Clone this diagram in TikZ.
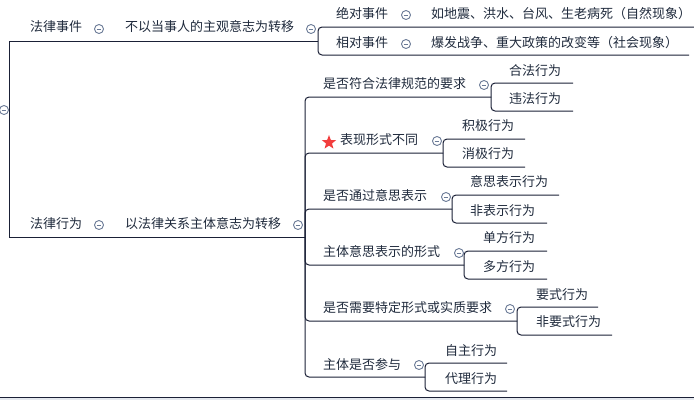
\documentclass[tikz,border=0pt]{standalone}
\usepackage{fontspec}
\setmainfont{Noto Sans CJK SC}
\usetikzlibrary{shapes.geometric}
\definecolor{ink}{HTML}{1F2A3C}
\definecolor{wire}{HTML}{1A2036}
\definecolor{knob}{HTML}{6A7A96}
\definecolor{mark}{HTML}{F23D3D}
\definecolor{band}{HTML}{E4E8EE}

\begin{document}
\begin{tikzpicture}[x=1pt,y=-1pt,
		topic/.style={anchor=west,inner sep=0pt,text=ink,font=\fontsize{13}{13}\selectfont,text height=0.83em,text depth=0.07em},
		fold/.style={circle,draw=knob,line width=0.9pt,minimum size=9pt,inner sep=0pt,
			path picture={\draw[knob,line width=0.9pt] ([xshift=-2.3pt]path picture bounding box.center) -- ([xshift=2.3pt]path picture bounding box.center);}},
		link/.style={draw=wire,line width=1pt,rounded corners=4pt},
		rootlink/.style={draw=wire,line width=1pt}]
	\useasboundingbox (0,0) rectangle (694,400);
	\fill[band] (0,397) rectangle (694,400);
	\draw[wire,line width=1pt] (0,397) -- (694,397);

	% root
	\node[fold] (root) at (4,110) {};
	\coordinate (rootj) at (9,110);

	% 法律事件
	\node[topic] (m1) at (30,28) {法律事件};
	\node[fold] (m1c) at (99,29) {};
	\node[topic] (s1) at (125,28) {不以当事人的主观意志为转移};
	\node[fold] (s1c) at (311,29) {};
	\coordinate (s1j) at (318,41);
	\node[topic] (e1) at (336,15) {绝对事件};
	\node[fold] (e1c) at (406,15) {};
	\node[topic] (e1d) at (431,15) {如地震、洪水、台风、生老病死（自然现象）};
	\coordinate (e1e) at (694,27);
	\node[topic] (e2) at (336,44) {相对事件};
	\node[fold] (e2c) at (406,44) {};
	\node[topic] (e2d) at (431,44) {爆发战争、重大政策的改变等（社会现象）};
	\coordinate (e2e) at (689,55);

	% 法律行为
	\node[topic] (m2) at (30,225) {法律行为};
	\node[fold] (m2c) at (99,225) {};
	\node[topic] (s2) at (125,225) {以法律关系主体意志为转移};
	\node[fold] (s2c) at (298,225) {};
	\coordinate (s2j) at (305,237);

	\node[topic] (q1) at (323,85) {是否符合法律规范的要求};
	\node[fold] (q1c) at (484,85) {};
	\coordinate (q1j) at (491,97);
	\node[topic] (a1) at (509,72) {合法行为};
	\coordinate (a1e) at (573,83);
	\node[topic] (a2) at (509,100) {违法行为};
	\coordinate (a2e) at (573,111);

	\node[star,star points=5,star point ratio=2.4,fill=mark,minimum size=15pt,inner sep=0pt] (q2s) at (329,142.5) {};
	\node[topic] (q2) at (340,141) {表现形式不同};
	\node[fold] (q2c) at (437,141) {};
	\coordinate (q2j) at (443,153);
	\node[topic] (b1) at (462,127) {积极行为};
	\coordinate (b1e) at (525,139);
	\node[topic] (b2) at (462,155) {消极行为};
	\coordinate (b2e) at (525,167);

	\node[topic] (q3) at (323,197) {是否通过意思表示};
	\node[fold] (q3c) at (446,197) {};
	\coordinate (q3j) at (452,209);
	\node[topic] (c1) at (470,183) {意思表示行为};
	\coordinate (c1e) at (559,195);
	\node[topic] (c2) at (470,212) {非表示行为};
	\coordinate (c2e) at (547,223);

	\node[topic] (q4) at (323,253) {主体意思表示的形式};
	\node[fold] (q4c) at (459,253) {};
	\coordinate (q4j) at (464,265);
	\node[topic] (d1) at (483,239) {单方行为};
	\coordinate (d1e) at (547,251);
	\node[topic] (d2) at (483,268) {多方行为};
	\coordinate (d2e) at (547,279);

	\node[topic] (q5) at (323,309) {是否需要特定形式或实质要求};
	\node[fold] (q5c) at (510,309) {};
	\coordinate (q5j) at (517,321);
	\node[topic] (f1) at (536,296) {要式行为};
	\coordinate (f1e) at (598,307);
	\node[topic] (f2) at (536,323) {非要式行为};
	\coordinate (f2e) at (612,335);

	\node[topic] (q6) at (323,366) {主体是否参与};
	\node[fold] (q6c) at (419,365) {};
	\coordinate (q6j) at (425,377);
	\node[topic] (g1) at (445,352) {自主行为};
	\coordinate (g1e) at (507,363);
	\node[topic] (g2) at (445,380) {代理行为};
	\coordinate (g2e) at (507,391);

	% connectors
	\draw[rootlink] (rootj) |- (s1j);
	\draw[rootlink] (rootj) |- (s2j);
	\draw[link] (s1j) |- (e1e);
	\draw[link] (s1j) |- (e2e);
	\foreach \q in {q1,q2,q3,q4,q5,q6}
		\draw[link] (s2j) |- (\q j);
	\foreach \q/\u/\v in {q1/a1/a2,q2/b1/b2,q3/c1/c2,q4/d1/d2,q5/f1/f2,q6/g1/g2}{
		\draw[link] (\q j) |- (\u e);
		\draw[link] (\q j) |- (\v e);
	}
\end{tikzpicture}
\end{document}
